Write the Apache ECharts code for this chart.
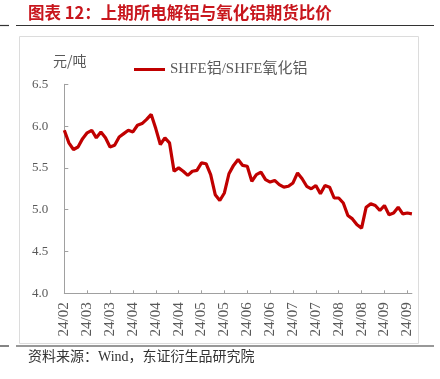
<!DOCTYPE html>
<html>
<head>
<meta charset="utf-8">
<script src="https://cdn.jsdelivr.net/npm/echarts@6/dist/echarts.min.js"></script>
<style>
html,body{margin:0;padding:0;background:#fff;}
#c{width:440px;height:379px;}
</style>
</head>
<body>
<div id="c"></div>
<script>
// Category labels (one per plotted point; shown every 5th)
var categories = [
  '24/02','24/02','24/02','24/02','24/02',
  '24/03','24/03','24/03','24/03','24/03',
  '24/03','24/03','24/03','24/03','24/03',
  '24/04','24/04','24/04','24/04','24/04',
  '24/04','24/04','24/04','24/04','24/04',
  '24/04','24/04','24/04','24/04','24/04',
  '24/05','24/05','24/05','24/05','24/05',
  '24/05','24/05','24/05','24/05','24/05',
  '24/06','24/06','24/06','24/06','24/06',
  '24/06','24/06','24/06','24/06','24/06',
  '24/07','24/07','24/07','24/07','24/07',
  '24/07','24/07','24/07','24/07','24/07',
  '24/08','24/08','24/08','24/08','24/08',
  '24/08','24/08','24/08','24/08','24/08',
  '24/09','24/09','24/09','24/09','24/09',
  '24/09','24/09'
];
// SHFE aluminium / SHFE alumina price ratio
var ratio = [
  5.95, 5.80, 5.72, 5.75, 5.85,
  5.92, 5.95, 5.86, 5.93, 5.86,
  5.75, 5.77, 5.87, 5.91, 5.95,
  5.93, 6.01, 6.03, 6.08, 6.14,
  5.97, 5.78, 5.86, 5.80, 5.46,
  5.50, 5.46, 5.41, 5.46, 5.47,
  5.56, 5.55, 5.42, 5.18, 5.11,
  5.20, 5.43, 5.53, 5.60, 5.53,
  5.52, 5.34, 5.42, 5.45, 5.36,
  5.33, 5.35, 5.30, 5.27, 5.28,
  5.32, 5.44, 5.37, 5.28, 5.25,
  5.29, 5.19, 5.29, 5.27, 5.14,
  5.14, 5.08, 4.93, 4.89, 4.82,
  4.78, 5.03, 5.07, 5.05, 4.99,
  5.05, 4.94, 4.96, 5.03, 4.95,
  4.96, 4.95
];
var seriesName = 'SHFE铝/SHFE氧化铝';
var titleText = '图表 12：上期所电解铝与氧化铝期货比价';
var unitText = '元/吨';
var sourceText = '资料来源：Wind，东证衍生品研究院';

var chart = echarts.init(document.getElementById('c'), null, {renderer: 'canvas'});
var red = '#C00000';
var axisGray = '#a0a0a0';
var labelGray = '#595959';
var serif = '"Liberation Serif","Noto Sans CJK SC",serif';

chart.setOption({
  animation: false,
  backgroundColor: '#fff',
  graphic: [
    {type: 'rect', shape: {x: 19.5, y: 36.5, width: 399, height: 307}, style: {fill: '#fff', stroke: '#dcdcdc', lineWidth: 1}, z: -10},
    {type: 'line', shape: {x1: 0, y1: 25.5, x2: 9, y2: 25.5}, style: {stroke: '#333', lineWidth: 1.2}},
    {type: 'line', shape: {x1: 16, y1: 25.5, x2: 434, y2: 25.5}, style: {stroke: '#333', lineWidth: 1.2}},
    {type: 'line', shape: {x1: 0, y1: 346, x2: 9, y2: 346}, style: {stroke: '#333', lineWidth: 1.2}},
    {type: 'line', shape: {x1: 16, y1: 346, x2: 434, y2: 346}, style: {stroke: '#333', lineWidth: 1.2}},
    {type: 'text', left: 28, top: 4, style: {text: titleText, fill: '#C8161D', font: 'bold 16.5px "Noto Sans CJK SC"'}},
    {type: 'text', left: 28, top: 350, style: {text: sourceText, fill: '#333', font: '14px "Liberation Serif","Noto Sans CJK SC"'}},
    {type: 'text', left: 53, top: 54, style: {text: unitText, fill: labelGray, font: '14px "Noto Sans CJK SC"'}}
  ],
  legend: {
    data: [seriesName],
    left: 129,
    top: 57,
    icon: 'rect',
    itemWidth: 31,
    itemHeight: 3,
    textStyle: {color: labelGray, fontSize: 15, fontFamily: serif}
  },
  grid: {left: 64.3, top: 84.3, width: 347.6, height: 209, containLabel: false},
  xAxis: {
    type: 'category',
    data: categories,
    boundaryGap: false,
    axisLine: {lineStyle: {color: axisGray, width: 1}},
    axisTick: {inside: true, length: 3, interval: 4, lineStyle: {color: axisGray}},
    axisLabel: {interval: 4, rotate: 90, margin: 9, color: labelGray, fontSize: 15, fontFamily: serif}
  },
  yAxis: {
    type: 'value',
    min: 4.0,
    max: 6.5,
    interval: 0.5,
    axisLine: {show: true, lineStyle: {color: axisGray, width: 1}},
    axisTick: {show: true, inside: true, length: 4, lineStyle: {color: axisGray}},
    splitLine: {show: false},
    axisLabel: {margin: 16, color: labelGray, fontSize: 13, fontFamily: serif,
      formatter: function (v) { return v.toFixed(1); }}
  },
  series: [{
    name: seriesName,
    type: 'line',
    data: ratio,
    symbol: 'none',
    lineStyle: {color: red, width: 3.2},
    itemStyle: {color: red}
  }]
});
</script>
</body>
</html>
